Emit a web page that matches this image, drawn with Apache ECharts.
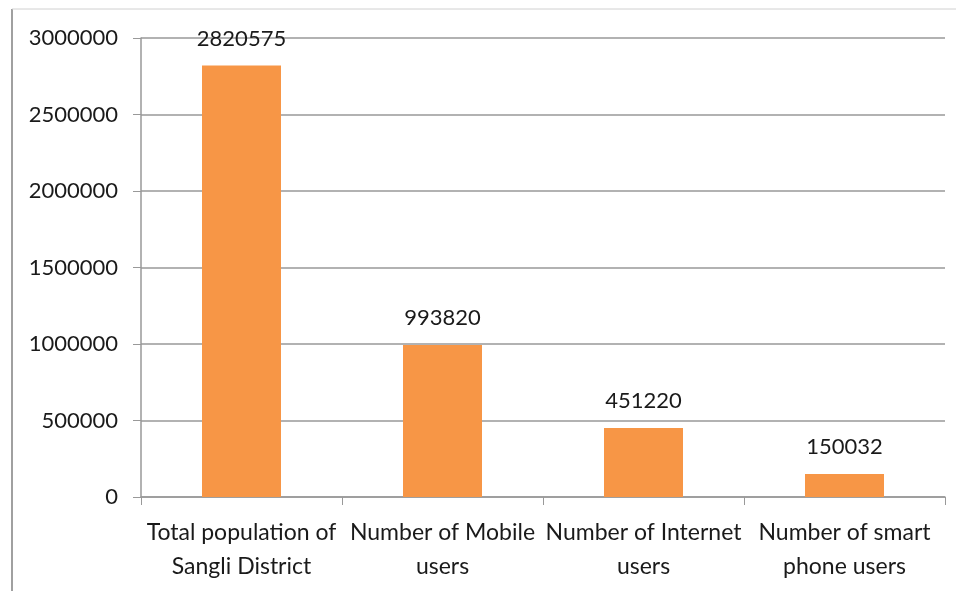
<!DOCTYPE html>
<html><head><meta charset="utf-8">
<script src="https://cdn.jsdelivr.net/npm/echarts@6/dist/echarts.min.js"></script>
<style>html,body{margin:0;padding:0;background:#fff}#c{width:956px;height:591px}</style>
</head><body><div id="c"></div>
<script>
const categories = ['Total population of\nSangli District', 'Number of Mobile\nusers', 'Number of Internet\nusers', 'Number of smart\nphone users'];
const values = [2820575, 993820, 451220, 150032];
const yTicks = [0, 500000, 1000000, 1500000, 2000000, 2500000, 3000000];

const chart = echarts.init(document.getElementById('c'));
const font = 'Lato, "Open Sans", sans-serif';
chart.setOption({
  animation: false,
  grid: {left: 141, right: 11, top: 38, bottom: 94},
  graphic: [
    {type: 'line', shape: {x1: 12, y1: 9, x2: 12, y2: 591}, style: {stroke: '#a0a0a0', lineWidth: 2}},
    {type: 'line', shape: {x1: 12, y1: 9, x2: 956, y2: 9}, style: {stroke: '#d0d0d0', lineWidth: 1}}
  ],
  xAxis: {
    type: 'category', data: categories,
    axisLine: {lineStyle: {color: '#999', width: 1.5}},
    axisTick: {show: true, length: 8, lineStyle: {color: '#999'}},
    axisLabel: {color: '#1a1a1a', fontSize: 23, fontFamily: font, lineHeight: 34, margin: 19, interval: 0}
  },
  yAxis: {
    type: 'value', min: yTicks[0], max: yTicks[yTicks.length - 1], interval: 500000,
    axisLine: {show: true, lineStyle: {color: '#999', width: 1.5}},
    axisTick: {show: true, length: 8, lineStyle: {color: '#999'}},
    splitLine: {lineStyle: {color: '#999', width: 1.5}},
    axisLabel: {color: '#1a1a1a', fontSize: 22, fontFamily: font, margin: 23, formatter: v => String(v)}
  },
  series: [{
    type: 'bar', data: values, barWidth: 79,
    itemStyle: {color: '#F79646'},
    label: {show: true, position: 'top', distance: 16, color: '#1a1a1a', fontSize: 22, fontFamily: font}
  }]
});
</script></body></html>
